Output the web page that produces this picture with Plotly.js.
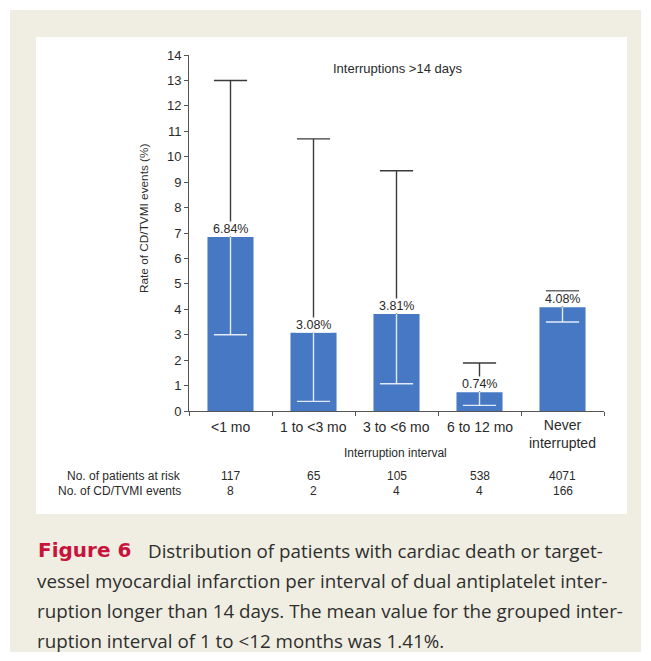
<!DOCTYPE html>
<html><head><meta charset="utf-8">
<script src="https://cdn.plot.ly/plotly-3.0.1.min.js"></script>
<style>html,body{margin:0;padding:0;background:#fff;}#chart{width:651px;height:661px;}</style>
</head><body><div id="chart"></div>
<script>
const categories = ['<1 mo', '1 to <3 mo', '3 to <6 mo', '6 to 12 mo', 'Never<br>interrupted'];
const rates = [6.84, 3.08, 3.81, 0.74, 4.08];
const upperCI = [13.0, 10.7, 9.45, 1.89, 4.72];
const lowerCI = [3.0, 0.38, 1.07, 0.22, 3.5];
const patientsAtRisk = [117, 65, 105, 538, 4071];
const events = [8, 2, 4, 4, 166];
const yTicks = [0,1,2,3,4,5,6,7,8,9,10,11,12,13,14];
const rowLabels = ['No. of patients at risk', 'No. of CD/TVMI events'];
const figureLabel = 'Figure 6';
const captionLines = [
  "Distribution of patients with cardiac death or target-",
  "vessel myocardial infarction per interval of dual antiplatelet inter-",
  "ruption longer than 14 days. The mean value for the grouped inter-",
  "ruption interval of 1 to \u003C12 months was 1.41%."
];

const W = 651, H = 661;
const M = {l: 189, r: 47, t: 55, b: 250};
const PW = W - M.l - M.r, PH = H - M.t - M.b;
const px = x => (x - M.l) / PW;
const py = y => (H - M.b - y) / PH;

const idx = categories.map((c, i) => i);
const capHalf = 0.2;

function segs(from, to) {
  const xs = [], ys = [];
  idx.forEach(i => {
    xs.push(i, i, null, i - capHalf, i + capHalf, null);
    ys.push(from[i], to[i], null, to[i], to[i], null);
  });
  return {xs, ys};
}
const up = segs(rates, upperCI);
const lo = segs(rates, lowerCI);

const font = 'Liberation Sans, Arial, sans-serif';
const txt = '#2a2a2a';

const traces = [
  {type: 'bar', x: idx, y: rates, width: 0.555, marker: {color: '#4678c3'}, hoverinfo: 'skip'},
  {type: 'scatter', mode: 'lines', x: up.xs, y: up.ys, line: {color: '#3a3a3a', width: 1.4}, hoverinfo: 'skip', cliponaxis: false},
  {type: 'scatter', mode: 'lines', x: lo.xs, y: lo.ys, line: {color: 'rgba(235,240,250,0.95)', width: 1.4}, hoverinfo: 'skip'}
];

const annotations = [];
idx.forEach(i => {
  annotations.push({x: i, y: rates[i], xref: 'x', yref: 'y', yanchor: 'bottom', yshift: 0,
    text: rates[i].toFixed(2) + '%', showarrow: false, bgcolor: '#ffffff', borderpad: 0,
    font: {family: font, size: 12.5, color: txt}});
  annotations.push({x: i, y: py(i === 4 ? 434 : 427), xref: 'x', yref: 'paper', yanchor: 'middle',
    text: categories[i], showarrow: false, font: {family: font, size: 14, color: txt}});
  annotations.push({x: i, y: py(476), xref: 'x', yref: 'paper', yanchor: 'middle',
    text: String(patientsAtRisk[i]), showarrow: false, font: {family: font, size: 12, color: txt}});
  annotations.push({x: i, y: py(491), xref: 'x', yref: 'paper', yanchor: 'middle',
    text: String(events[i]), showarrow: false, font: {family: font, size: 12, color: txt}});
});
rowLabels.forEach((t, k) => {
  annotations.push({x: px(183), y: py(476 + 15 * k), xref: 'paper', yref: 'paper', xanchor: 'right', yanchor: 'middle',
    text: t, showarrow: false, font: {family: font, size: 12, color: txt}});
});
annotations.push({x: px(395), y: py(453), xref: 'paper', yref: 'paper', xanchor: 'center', yanchor: 'middle',
  text: 'Interruption interval', showarrow: false, font: {family: font, size: 12, color: txt}});
annotations.push({x: px(397), y: py(68), xref: 'paper', yref: 'paper', xanchor: 'center', yanchor: 'middle',
  text: 'Interruptions >14 days', showarrow: false, font: {family: font, size: 13, color: txt}});
annotations.push({x: px(144), y: py(218), xref: 'paper', yref: 'paper', xanchor: 'center', yanchor: 'middle',
  text: 'Rate of CD/TVMI events (%)', textangle: -90, showarrow: false, font: {family: font, size: 11.8, color: txt}});
annotations.push({x: px(36), y: py(550), xref: 'paper', yref: 'paper', xanchor: 'left', yanchor: 'middle',
  text: '<b>' + figureLabel + '</b>', showarrow: false, font: {family: 'DejaVu Sans, sans-serif', size: 20, color: '#c8143c'}});
captionLines.forEach((t, k) => {
  annotations.push({x: px(k === 0 ? 146 : 35), y: py(551 + 30 * k), xref: 'paper', yref: 'paper', xanchor: 'left', yanchor: 'middle',
    text: t, showarrow: false, font: {family: 'Open Sans, sans-serif', size: 18.8, color: '#2e2e2e'}});
});

const shapes = [
  {type: 'rect', xref: 'paper', yref: 'paper', x0: px(10), x1: px(641), y0: py(10), y1: py(652),
    fillcolor: '#f0eee2', line: {width: 0}, layer: 'below'},
  {type: 'rect', xref: 'paper', yref: 'paper', x0: px(36), x1: px(627), y0: py(37), y1: py(514),
    fillcolor: '#ffffff', line: {width: 0}, layer: 'below'}
];

const layout = {
  width: W, height: H, margin: M,
  paper_bgcolor: '#ffffff', plot_bgcolor: 'rgba(0,0,0,0)',
  showlegend: false,
  xaxis: {range: [-0.5, 4.5], tickvals: [-0.5, 0.5, 1.5, 2.5, 3.5, 4.5], showticklabels: false,
    ticks: 'outside', ticklen: 4, tickcolor: '#555', showline: true, linecolor: '#555', linewidth: 1,
    showgrid: false, zeroline: false, fixedrange: true},
  yaxis: {range: [0, 14], tickvals: yTicks, ticks: 'outside', ticklen: 4, tickcolor: '#555',
    showline: true, linecolor: '#555', linewidth: 1, showgrid: false, zeroline: false,
    tickfont: {family: font, size: 13, color: txt}, fixedrange: true},
  annotations, shapes
};

Plotly.newPlot('chart', traces, layout, {staticPlot: true, displayModeBar: false});
</script></body></html>
